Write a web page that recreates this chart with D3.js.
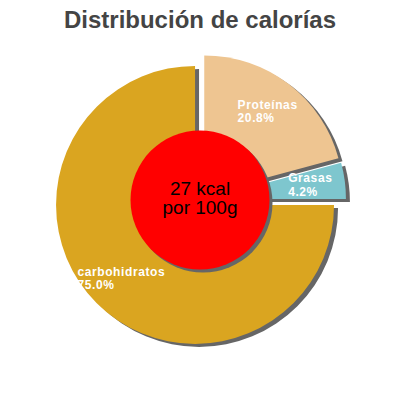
<!DOCTYPE html>
<html>
<head>
<meta charset="utf-8">
<script src="https://cdn.jsdelivr.net/npm/d3@7"></script>
<style>
  body { margin: 0; background: #fff; }
  svg { font-family: "Liberation Sans", Arial, sans-serif; }
</style>
</head>
<body>
<svg width="400" height="400"></svg>
<script>
// data
const labels = ['Proteínas', 'Grasas', 'carbohidratos']
const percents = [20.8, 4.2, 75.0]
const colors = ['#EEC591', '#7EC6CE', '#DAA520']
const centerLines = ['27 kcal', 'por 100g']
const title = 'Distribución de calorías'

const svg = d3.select('svg')
const cx = 200, cy = 200, r = 139, explode = 7

svg.append('text')
    .attr('x', 200).attr('y', 28)
    .attr('text-anchor', 'middle')
    .attr('font-size', 24).attr('font-weight', 'bold')
    .attr('fill', '#444')
    .text(title)

const pie = d3.pie().sort(null).value(d => d)
const arcs = pie(percents)
const arc = d3.arc().innerRadius(0).outerRadius(r)

const g = svg.append('g').attr('transform', `translate(${cx},${cy})`)

function offset(d) {
    const a = (d.startAngle + d.endAngle) / 2
    return [Math.sin(a) * explode, -Math.cos(a) * explode]
}

// shadows first
g.selectAll('path.shadow').data(arcs)
  .enter().append('path')
    .attr('class', 'shadow')
    .attr('d', arc)
    .attr('fill', '#666')
    .attr('transform', d => {
        const [x, y] = offset(d)
        return `translate(${x + 4},${y + 3})`
    })

g.selectAll('path.slice').data(arcs)
  .enter().append('path')
    .attr('class', 'slice')
    .attr('d', arc)
    .attr('fill', (d, i) => colors[i])
    .attr('transform', d => {
        const [x, y] = offset(d)
        return `translate(${x},${y})`
    })

// labels, block centred on the mid angle at 3/4 radius
arcs.forEach((d, i) => {
    const a = (d.startAngle + d.endAngle) / 2
    const [ox, oy] = offset(d)
    const lx = ox + Math.sin(a) * r * 0.75
    const ly = oy - Math.cos(a) * r * 0.75
    const t = g.append('text')
        .attr('fill', '#fff')
        .attr('font-size', 12)
        .attr('letter-spacing', 0.6)
        .attr('font-weight', 'bold')
    t.append('tspan').text(labels[i])
    t.append('tspan').text(percents[i].toFixed(1) + '%')
    const w = t.select('tspan').node().getComputedTextLength()
    t.selectAll('tspan')
        .attr('x', lx - w / 2)
        .attr('y', (_, j) => ly - 3 + j * 13.5)
})

// centre disc
g.append('circle').attr('cx', 3).attr('cy', 3).attr('r', r / 2).attr('fill', '#666')
g.append('circle').attr('r', r / 2).attr('fill', '#FF0000')

g.append('text')
    .attr('text-anchor', 'middle')
    .attr('font-size', 19)
    .attr('fill', '#000')
  .selectAll('tspan').data(centerLines)
  .enter().append('tspan')
    .attr('x', 0)
    .attr('y', (d, i) => -5 + i * 19)
    .text(d => d)
</script>
</body>
</html>
